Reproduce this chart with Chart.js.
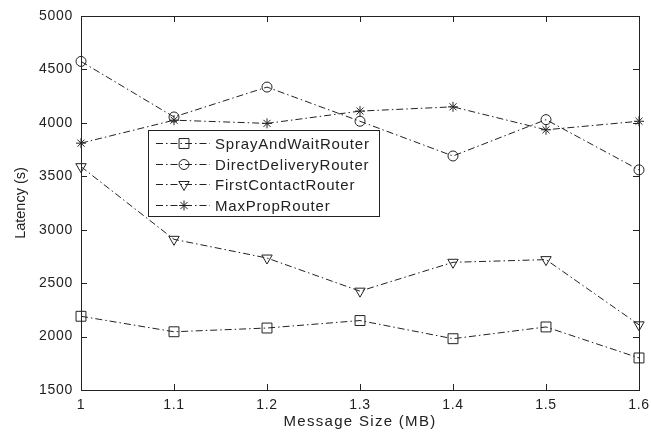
<!DOCTYPE html>
<html>
<head>
<meta charset="utf-8">
<script src="https://cdn.jsdelivr.net/npm/chart.js@4/dist/chart.umd.min.js"></script>
<style>
  html, body { margin: 0; padding: 0; background: #fff; }
  #wrap { width: 651px; height: 434px; }
</style>
</head>
<body>
<div id="wrap"><canvas id="chart" width="651" height="434"></canvas></div>
<script>
// Data
const messageSizes = [1, 1.1, 1.2, 1.3, 1.4, 1.5, 1.6];
const xTickLabels = ['1', '1.1', '1.2', '1.3', '1.4', '1.5', '1.6'];
const yTicks = [1500, 2000, 2500, 3000, 3500, 4000, 4500, 5000];

const seriesNames = ['SprayAndWaitRouter', 'DirectDeliveryRouter', 'FirstContactRouter', 'MaxPropRouter'];
const sprayAndWait = [2190, 2045, 2080, 2150, 1980, 2090, 1800];
const directDelivery = [4575, 4055, 4335, 4015, 3690, 4030, 3560];
const firstContact = [3590, 2910, 2735, 2425, 2695, 2720, 2110];
const maxProp = [3810, 4025, 3995, 4110, 4150, 3935, 4015];

const ink = '#222';
const fontFamily = '"Liberation Sans", Arial, Helvetica, sans-serif';
const dashDot = [7, 3, 1.5, 3];

function toPoints(values) {
  return messageSizes.map((x, i) => ({ x: x, y: values[i] }));
}

function makeDataset(label, values, style, radius, rotation) {
  return {
    label: label,
    data: toPoints(values),
    borderColor: ink,
    borderWidth: 1,
    borderDash: dashDot,
    pointStyle: style,
    pointRadius: radius,
    pointRotation: rotation || 0,
    pointBorderColor: ink,
    pointBackgroundColor: 'rgba(0,0,0,0)',
    pointBorderWidth: 1,
    tension: 0,
    fill: false,
    clip: false
  };
}

// the original figure is a bit stretched sideways, so text gets some letter spacing
function spacedTitle(scale, spacing) {
  if (scale._spacedTitle) return;
  const drawTitle = scale.drawTitle.bind(scale);
  scale.drawTitle = function () {
    const c = scale.ctx;
    const prev = c.letterSpacing;
    c.letterSpacing = spacing;
    drawTitle();
    c.letterSpacing = prev;
  };
  scale._spacedTitle = true;
}

// Box around the axes with inward tick marks (MATLAB style)
const boxPlugin = {
  id: 'boxTicks',
  beforeDraw(chart) {
    chart.ctx.letterSpacing = '0.7px';
  },
  afterDatasetsDraw(chart) {
    const { ctx, chartArea: a } = chart;
    const xs = chart.scales.x, ys = chart.scales.y;
    ctx.save();
    ctx.strokeStyle = ink;
    ctx.lineWidth = 1;
    ctx.setLineDash([]);
    ctx.strokeRect(Math.round(a.left) + 0.5, Math.round(a.top) + 0.5,
      Math.round(a.right - a.left), Math.round(a.bottom - a.top));
    ctx.beginPath();
    xs.ticks.forEach(t => {
      const px = Math.round(xs.getPixelForValue(t.value)) + 0.5;
      ctx.moveTo(px, a.bottom); ctx.lineTo(px, a.bottom - 6);
      ctx.moveTo(px, a.top); ctx.lineTo(px, a.top + 6);
    });
    ys.ticks.forEach(t => {
      const py = Math.round(ys.getPixelForValue(t.value)) + 0.5;
      ctx.moveTo(a.left, py); ctx.lineTo(a.left + 6, py);
      ctx.moveTo(a.right, py); ctx.lineTo(a.right - 6, py);
    });
    ctx.stroke();
    ctx.restore();
  }
};

// Legend box drawn inside the plot area
const insideLegend = {
  id: 'insideLegend',
  afterDraw(chart) {
    const { ctx } = chart;
    const x = 148, y = 130, w = 231, h = 86;
    ctx.save();
    ctx.fillStyle = '#fff';
    ctx.fillRect(x, y, w, h);
    ctx.strokeStyle = ink;
    ctx.lineWidth = 1;
    ctx.setLineDash([]);
    ctx.strokeRect(x + 0.5, y + 0.5, w, h);
    chart.data.datasets.forEach((ds, i) => {
      const rowY = Math.round(y + 13 + i * 20.7) + 0.5;
      ctx.strokeStyle = ink;
      ctx.setLineDash(dashDot);
      ctx.beginPath();
      ctx.moveTo(x + 8, rowY);
      ctx.lineTo(x + 62, rowY);
      ctx.stroke();
      ctx.setLineDash([]);
      ctx.fillStyle = 'rgba(0,0,0,0)';
      Chart.helpers.drawPoint(ctx, {
        pointStyle: ds.pointStyle,
        rotation: ds.pointRotation,
        radius: ds.pointRadius,
        borderWidth: 1
      }, x + 36, rowY);
      ctx.fillStyle = ink;
      ctx.font = '15px ' + fontFamily;
      ctx.letterSpacing = '0.8px';
      ctx.textAlign = 'left';
      ctx.textBaseline = 'middle';
      ctx.fillText(ds.label, x + 67, rowY + 1);
    });
    ctx.restore();
  }
};

const ctx = document.getElementById('chart').getContext('2d');
new Chart(ctx, {
  type: 'line',
  data: {
    datasets: [
      makeDataset(seriesNames[0], sprayAndWait, 'rect', 7),
      makeDataset(seriesNames[1], directDelivery, 'circle', 5),
      makeDataset(seriesNames[2], firstContact, 'triangle', 6, 180),
      makeDataset(seriesNames[3], maxProp, 'star', 5)
    ]
  },
  options: {
    responsive: false,
    devicePixelRatio: 1,
    animation: false,
    layout: { padding: { top: 16, right: 12, left: 0, bottom: 0 } },
    plugins: {
      legend: { display: false },
      tooltip: { enabled: false }
    },
    scales: {
      x: {
        type: 'linear',
        min: 1,
        max: 1.6,
        afterBuildTicks: scale => {
          scale.ticks = messageSizes.map(v => ({ value: v }));
        },
        afterFit: scale => {
          scale.height = 44;
          scale.paddingLeft = 0;
          scale.paddingRight = 0;
          spacedTitle(scale, '1.3px');
        },
        ticks: {
          callback: (value, index) => xTickLabels[index],
          color: ink,
          font: { family: fontFamily, size: 14 },
          padding: 7,
          maxRotation: 0,
          autoSkip: false
        },
        grid: { display: false, drawTicks: false, tickLength: 0 },
        border: { display: false },
        title: {
          display: true,
          text: 'Message Size (MB)',
          color: ink,
          font: { family: fontFamily, size: 15 },
          padding: { top: 0, bottom: 3 }
        }
      },
      y: {
        type: 'linear',
        min: 1500,
        max: 5000,
        afterBuildTicks: scale => {
          scale.ticks = yTicks.map(v => ({ value: v }));
        },
        afterFit: scale => {
          scale.width = 81;
          scale.paddingTop = 0;
          scale.paddingBottom = 0;
          spacedTitle(scale, '0px');
        },
        ticks: {
          callback: value => String(value),
          color: ink,
          font: { family: fontFamily, size: 14 },
          padding: 8
        },
        grid: { display: false, drawTicks: false, tickLength: 0 },
        border: { display: false },
        title: {
          display: true,
          text: 'Latency (s)',
          color: ink,
          font: { family: fontFamily, size: 14.5 },
          padding: { top: 12, bottom: 0 }
        }
      }
    }
  },
  plugins: [boxPlugin, insideLegend]
});
</script>
</body>
</html>
